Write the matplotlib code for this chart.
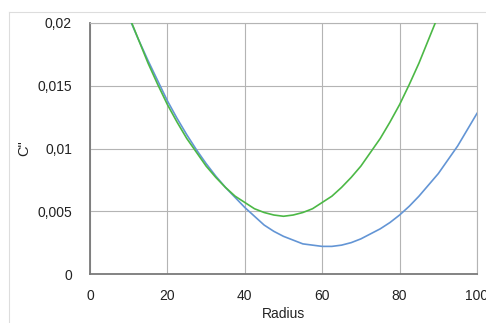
import numpy as np
import matplotlib
matplotlib.use("Agg")
from matplotlib import pyplot as plt
from matplotlib.ticker import FuncFormatter
from matplotlib.lines import Line2D

# values (every 2.5 units of radius)
radius = [10, 12.5, 15, 17.5, 20, 22.5, 25, 27.5, 30, 32.5, 35, 37.5, 40, 42.5, 45, 47.5,
          50, 52.5, 55, 57.5, 60, 62.5, 65, 67.5, 70, 72.5, 75, 77.5, 80, 82.5, 85, 87.5,
          90, 92.5, 95, 97.5, 100]
blueC = [0.0205, 0.0187, 0.0170, 0.0154, 0.0138, 0.0124, 0.0111, 0.0099, 0.0088, 0.0078,
         0.0069, 0.0061, 0.0053, 0.0046, 0.0039, 0.0034, 0.0030, 0.0027, 0.0024, 0.0023,
         0.0022, 0.0022, 0.0023, 0.0025, 0.0028, 0.0032, 0.0036, 0.0041, 0.0047, 0.0054,
         0.0062, 0.0071, 0.0080, 0.0091, 0.0102, 0.0115, 0.0128]
greenC = [0.0206, 0.0187, 0.0168, 0.0151, 0.0135, 0.0121, 0.0108, 0.0097, 0.0086, 0.0077,
          0.0069, 0.0062, 0.0057, 0.0052, 0.0049, 0.0047, 0.0046, 0.0047, 0.0049, 0.0052,
          0.0057, 0.0062, 0.0069, 0.0077, 0.0086, 0.0097, 0.0108, 0.0121, 0.0135, 0.0151,
          0.0168, 0.0187, 0.0206, 0.0226, 0.0248, 0.0271, 0.0295]

plt.rcParams['font.family'] = ['Liberation Sans', 'DejaVu Sans']

fig = plt.figure(figsize=(4.86, 3.23), dpi=100)
ax = fig.add_axes([90 / 486., 49 / 323., 387 / 486., 251 / 323.])

ax.plot(radius, blueC, color='#6395d5', lw=1.2, zorder=3)
ax.plot(radius, greenC, color='#4cb846', lw=1.2, zorder=3)

ax.set_xlim(0, 100)
ax.set_ylim(0, 0.02)
ax.set_xticks(np.arange(0, 101, 20))
ax.set_yticks([0, 0.005, 0.01, 0.015, 0.02])
ax.yaxis.set_major_formatter(FuncFormatter(lambda v, p: ('%g' % v).replace('.', ',')))
ax.grid(True, color='#b4b4b4', lw=0.8)
ax.set_axisbelow(True)
ax.tick_params(length=0, labelsize=10, colors='#222222')
ax.tick_params(axis='y', pad=13)
ax.tick_params(axis='x', pad=11)

for s in ('top', 'right'):
    ax.spines[s].set_color('#b4b4b4')
    ax.spines[s].set_linewidth(0.8)
for s in ('left', 'bottom'):
    ax.spines[s].set_color('#7a7a7a')
    ax.spines[s].set_linewidth(1.3)

ax.set_xlabel('Radius', fontsize=10, labelpad=3, color='#222222')
ax.set_ylabel('C"', fontsize=10.5, labelpad=4, color='#222222')

# outer chart frame (partly cut off)
fig.add_artist(Line2D([8.5 / 486., 8.5 / 486.], [0, 1 - 11.5 / 323.], color='#dddddd', lw=0.8))
fig.add_artist(Line2D([8.5 / 486., 1], [1 - 11.5 / 323., 1 - 11.5 / 323.], color='#dddddd', lw=0.8))

plt.savefig("out.png", dpi=100)
